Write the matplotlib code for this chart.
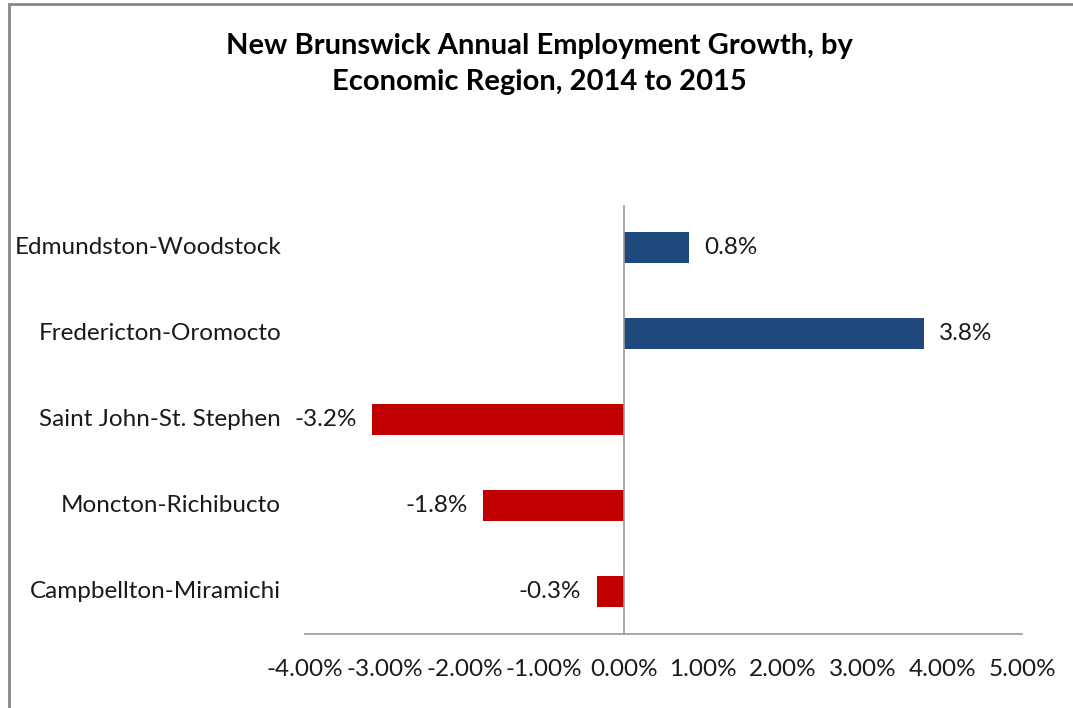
import matplotlib
matplotlib.use('Agg')
import matplotlib.pyplot as plt
from matplotlib.patches import Rectangle
from matplotlib.ticker import FuncFormatter

regions = ['Edmundston-Woodstock', 'Fredericton-Oromocto', 'Saint John-St. Stephen',
           'Moncton-Richibucto', 'Campbellton-Miramichi']
growth = [0.82, 3.77, -3.16, -1.76, -0.34]
x_ticks = [-4, -3, -2, -1, 0, 1, 2, 3, 4, 5]

plt.rcParams['font.family'] = ['Lato', 'DejaVu Sans']

fig = plt.figure(figsize=(10.73, 7.08), dpi=100)
ax = fig.add_axes([305 / 1073, 1 - 634 / 708, 717 / 1073, 429 / 708])

# frame around the chart like the spreadsheet export
fig.patches.append(Rectangle((9 / 1073, -0.05), 1.1, 0.05 + 1 - 4 / 708, transform=fig.transFigure,
                             fill=False, edgecolor='#888888', linewidth=2))

ypos = list(range(len(regions)))[::-1]
colors = ['#1F497D' if g >= 0 else '#C00000' for g in growth]
ax.barh(ypos, growth, height=0.36, color=colors, zorder=2)

for y, g in zip(ypos, growth):
    if g >= 0:
        ax.text(g + 0.19, y, f'{g:.1f}%', va='center', ha='left', fontsize=17.5, color='#1a1a1a')
    else:
        ax.text(g - 0.19, y, f'{g:.1f}%', va='center', ha='right', fontsize=17.5, color='#1a1a1a')

ax.set_xlim(-4, 5)
ax.set_ylim(-0.5, len(regions) - 0.5)
ax.set_xticks(x_ticks)
ax.xaxis.set_major_formatter(FuncFormatter(lambda v, p: f'{v:.2f}%'))
ax.tick_params(axis='x', length=0, pad=18, labelsize=17.5, labelcolor='#1a1a1a')
ax.set_yticks([])
ax.axvline(0, color='#999999', linewidth=1.2, zorder=3)

for s in ['top', 'right', 'left']:
    ax.spines[s].set_visible(False)
ax.spines['bottom'].set_color('#999999')
ax.spines['bottom'].set_linewidth(1.2)

# category labels sit to the left of the axes
for y, name in zip(ypos, regions):
    ax.text(-4.3, y, name, va='center', ha='right', fontsize=17.5, color='#1a1a1a')

fig.text(0.503, 1 - 64 / 708, 'New Brunswick Annual Employment Growth, by\nEconomic Region, 2014 to 2015',
         ha='center', va='center', fontsize=21, fontweight='bold', linespacing=1.45)

fig.savefig('out.png', dpi=100)
